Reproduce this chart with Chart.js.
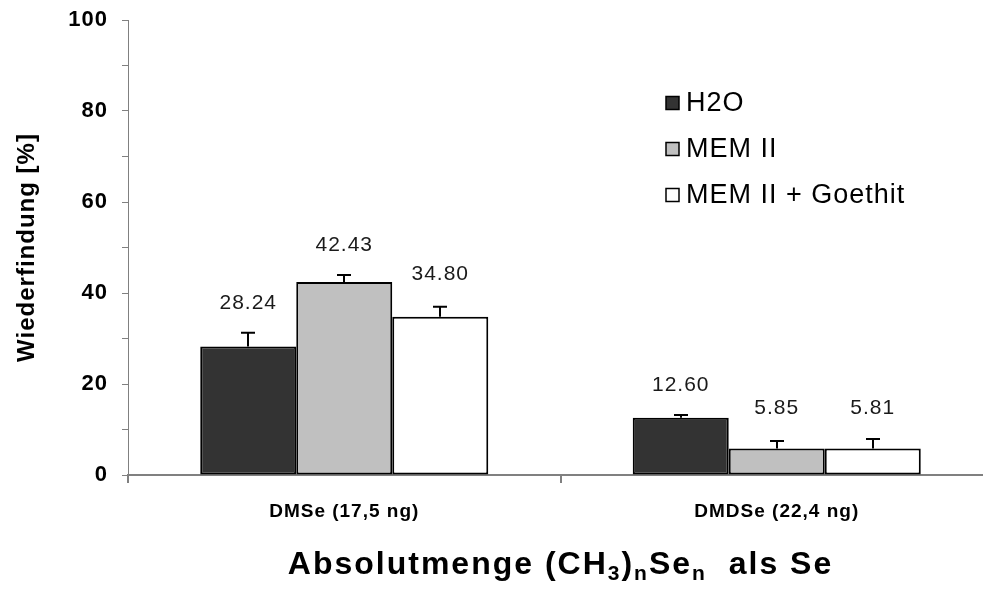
<!DOCTYPE html>
<html>
<head>
<meta charset="utf-8">
<script src="https://cdn.jsdelivr.net/npm/chart.js@4"></script>
<style>
  html, body { margin: 0; padding: 0; background: #fff; overflow: hidden; }
  #wrap { width: 1000px; height: 595px; }
</style>
</head>
<body>
<div id="wrap"><canvas id="bar-chart" width="1000" height="595"></canvas></div>
<script>
// categories and series
const categories = ["DMSe (17,5 ng)", "DMDSe (22,4 ng)"];
const seriesNames = ["H2O", "MEM II", "MEM II + Goethit"];

// values (labels are printed on the chart)
const h2oValues = [28.24, 12.60];
const memValues = [42.43, 5.85];
const goethitValues = [34.80, 5.81];

// upper error bars (estimated)
const h2oErrors = [3.0, 0.6];
const memErrors = [1.5, 1.6];
const goethitErrors = [2.2, 2.1];

// y axis
const yMin = 0;
const yMax = 100;
const yLabelStep = 20;
const yMinorStep = 10;

const FONT = "Arial, 'Liberation Sans', sans-serif";

// the original text is a bit loosely spaced
const spacing = {
  id: 'spacing',
  beforeDraw(chart) { chart.ctx.letterSpacing = '1px'; },
  afterDraw(chart) { chart.ctx.letterSpacing = '0px'; }
};

// draws the upper error bars
const errorBars = {
  id: 'errorBars',
  afterDatasetsDraw(chart, args, opts) {
    const ctx = chart.ctx;
    const yScale = chart.scales.y;
    ctx.save();
    ctx.strokeStyle = '#000';
    ctx.lineWidth = 2;
    chart.data.datasets.forEach((ds, i) => {
      const meta = chart.getDatasetMeta(i);
      meta.data.forEach((bar, j) => {
        const top = yScale.getPixelForValue(ds.data[j] + ds.errors[j]);
        const x = Math.round(bar.x);
        ctx.beginPath();
        ctx.moveTo(x, bar.y);
        ctx.lineTo(x, top);
        ctx.moveTo(x - opts.cap, top);
        ctx.lineTo(x + opts.cap, top);
        ctx.stroke();
      });
    });
    ctx.restore();
  }
};

// value labels above the error bars
const valueLabels = {
  id: 'valueLabels',
  afterDatasetsDraw(chart, args, opts) {
    const ctx = chart.ctx;
    const yScale = chart.scales.y;
    ctx.save();
    ctx.letterSpacing = '1px';
    ctx.font = opts.font;
    ctx.fillStyle = '#1a1a1a';
    ctx.textAlign = 'center';
    ctx.textBaseline = 'middle';
    chart.data.datasets.forEach((ds, i) => {
      const meta = chart.getDatasetMeta(i);
      meta.data.forEach((bar, j) => {
        const top = yScale.getPixelForValue(ds.data[j] + ds.errors[j]);
        ctx.fillText(ds.data[j].toFixed(2), bar.x, top - opts.gap[i][j]);
      });
    });
    ctx.restore();
  }
};

// legend inside the plot
const boxLegend = {
  id: 'boxLegend',
  afterDraw(chart, args, opts) {
    const ctx = chart.ctx;
    ctx.save();
    ctx.letterSpacing = '1px';
    ctx.font = opts.font;
    ctx.textBaseline = 'middle';
    chart.data.datasets.forEach((ds, i) => {
      const cy = opts.y + i * opts.row;
      ctx.fillStyle = ds.backgroundColor;
      ctx.fillRect(opts.x, cy - opts.box / 2, opts.box, opts.box);
      ctx.strokeStyle = '#000';
      ctx.lineWidth = 1.5;
      ctx.strokeRect(opts.x, cy - opts.box / 2, opts.box, opts.box);
      ctx.fillStyle = '#000';
      ctx.fillText(ds.label, opts.x + opts.box + 7, cy + 1);
    });
    ctx.restore();
  }
};

// x axis title with subscripts
const xTitle = {
  id: 'xTitle',
  afterDraw(chart, args, opts) {
    const ctx = chart.ctx;
    const parts = [
      ["Absolutmenge (CH", false], ["3", true], [")", false], ["n", true],
      ["Se", false], ["n", true], ["  als Se", false]
    ];
    const big = "bold 32px " + FONT;
    const small = "bold 21px " + FONT;
    ctx.save();
    ctx.letterSpacing = '2px';
    let total = 0;
    parts.forEach(p => { ctx.font = p[1] ? small : big; total += ctx.measureText(p[0]).width; });
    const area = chart.chartArea;
    let x = (area.left + area.right) / 2 - total / 2;
    ctx.fillStyle = '#000';
    ctx.textBaseline = 'alphabetic';
    parts.forEach(p => {
      ctx.font = p[1] ? small : big;
      ctx.fillText(p[0], x, opts.baseline + (p[1] ? 6 : 0));
      x += ctx.measureText(p[0]).width;
    });
    ctx.restore();
  }
};

document.addEventListener('DOMContentLoaded', () => {
  const ctx = document.getElementById('bar-chart').getContext('2d');
  new Chart(ctx, {
    type: 'bar',
    data: {
      labels: categories,
      datasets: [
        { label: seriesNames[0], data: h2oValues, errors: h2oErrors, backgroundColor: '#333333' },
        { label: seriesNames[1], data: memValues, errors: memErrors, backgroundColor: '#c0c0c0' },
        { label: seriesNames[2], data: goethitValues, errors: goethitErrors, backgroundColor: '#ffffff' }
      ]
    },
    options: {
      responsive: false,
      animation: false,
      layout: { padding: { top: 20, right: 7, bottom: 0, left: 0 } },
      datasets: {
        bar: {
          borderColor: '#000',
          borderWidth: 2,
          borderSkipped: false,
          barPercentage: 1,
          categoryPercentage: 0.666
        }
      },
      scales: {
        x: {
          afterFit: (scale) => { scale.height = 120; },
          border: { color: '#808080', width: 2 },
          grid: { display: true, drawOnChartArea: false, tickLength: 8, color: '#808080', lineWidth: 2 },
          ticks: { color: '#000', padding: 17, font: { family: FONT, size: 19, weight: 'bold' } }
        },
        y: {
          min: yMin,
          max: yMax,
          afterFit: (scale) => {
            scale.width = 128;
            scale.paddingTop = 0;
            scale.paddingBottom = 0;
          },
          border: { color: '#808080', width: 1 },
          grid: { drawOnChartArea: false, tickLength: 6, color: '#808080' },
          ticks: {
            stepSize: yMinorStep,
            color: '#000',
            padding: 14,
            font: { family: FONT, size: 22, weight: 'bold' },
            callback: (v) => (v % yLabelStep === 0 ? v : '')
          },
          title: {
            display: true,
            text: 'Wiederfindung [%]',
            color: '#000',
            padding: { top: 13, bottom: 0 },
            font: { family: FONT, size: 24, weight: 'bold' }
          }
        }
      },
      plugins: {
        legend: { display: false },
        tooltip: { enabled: false },
        errorBars: { cap: 7 },
        valueLabels: {
          font: "21px " + FONT,
          gap: [[30, 30], [30, 33], [32, 31]]
        },
        boxLegend: { x: 666, y: 103, row: 46, box: 13, font: "27px " + FONT },
        xTitle: { baseline: 574 }
      }
    },
    plugins: [spacing, errorBars, valueLabels, boxLegend, xTitle]
  });
});
</script>
</body>
</html>
